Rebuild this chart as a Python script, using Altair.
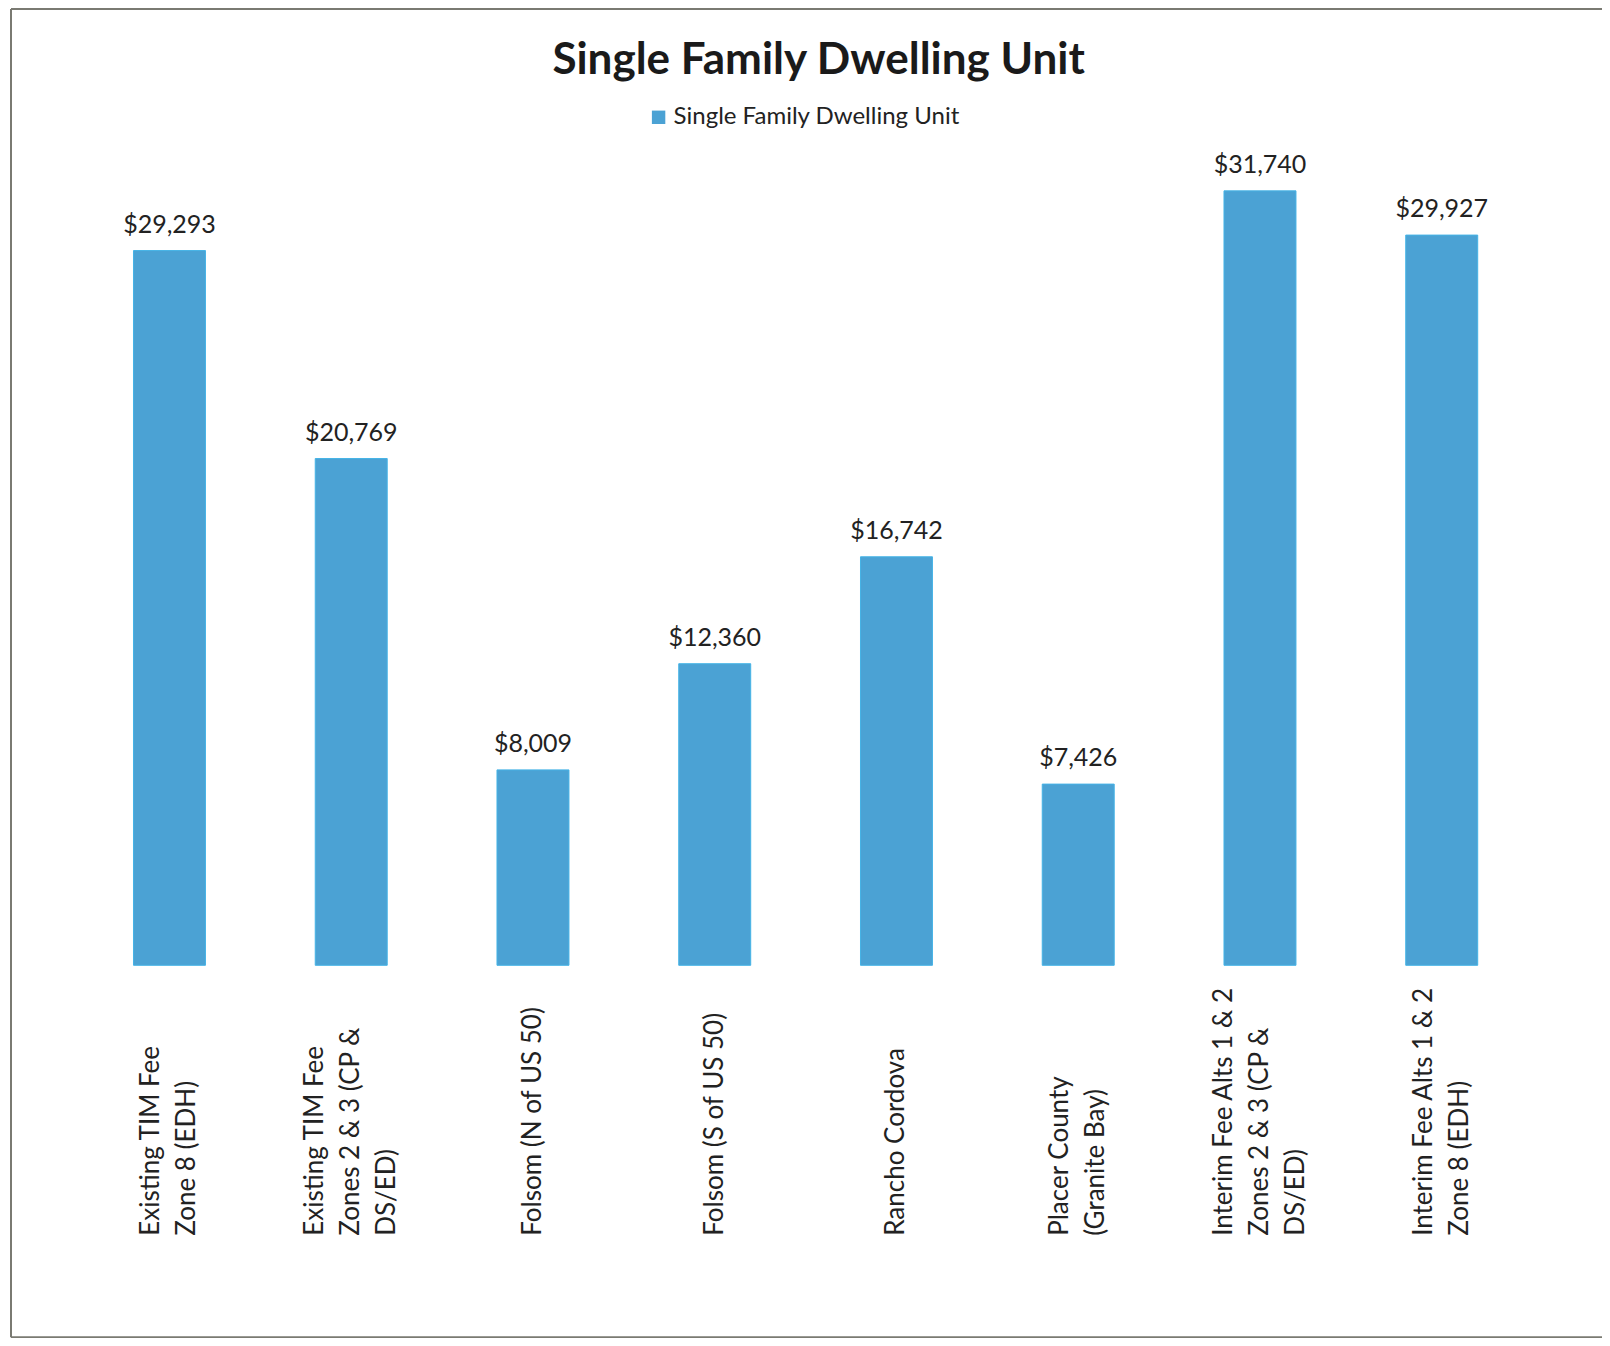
import altair as alt
import pandas as pd

categories = [
    "Existing TIM Fee|Zone 8 (EDH)",
    "Existing TIM Fee|Zones 2 & 3 (CP &|DS/ED)",
    "Folsom (N of US 50)",
    "Folsom (S of US 50)",
    "Rancho Cordova",
    "Placer County|(Granite Bay)",
    "Interim Fee Alts 1 & 2|Zones 2 & 3 (CP &|DS/ED)",
    "Interim Fee Alts 1 & 2|Zone 8 (EDH)",
]
fees = [29293, 20769, 8009, 12360, 16742, 7426, 31740, 29927]
series_name = "Single Family Dwelling Unit"

df = pd.DataFrame({"category": categories, "fee": fees, "series": [series_name] * len(fees)})

FONT = "Lato"
W, H = 1454, 854
LH = 36

x_enc = alt.X(
    "category:N",
    sort=None,
    title=None,
    scale=alt.Scale(paddingInner=0.604, paddingOuter=0.302),
    axis=alt.Axis(
        labelExpr="split(datum.label, '|')",
        labelAngle=270,
        labelAlign="left",
        labelBaseline="middle",
        labelPadding=270,
        labelOffset=alt.ExprRef(expr=f"-{LH / 2}*(length(split(datum.label, '|'))-1)"),
        labelFontSize=26,
        labelFont=FONT,
        labelColor="#222222",
        labelLineHeight=LH,
        labelOverlap=False,
        labelBound=False,
        labelLimit=0,
        domain=False,
        ticks=False,
        tickSize=0,
        grid=False,
    ),
)
y_enc = alt.Y("fee:Q", scale=alt.Scale(domain=[0, 35000], nice=False), axis=None)

base = alt.Chart(df)

bars = base.mark_bar(stroke="#45B3E6", strokeWidth=1).encode(
    x=x_enc,
    y=y_enc,
    color=alt.Color(
        "series:N",
        scale=alt.Scale(range=["#4BA2D4"]),
        legend=alt.Legend(
            title=None,
            orient="none",
            legendX=568,
            legendY=-6,
            padding=0,
            symbolType="square",
            symbolSize=180,
            symbolStrokeWidth=0,
            labelFont=FONT,
            labelFontSize=24,
            labelLimit=0,
            labelColor="#222222",
            labelOffset=3,
        ),
    ),
)

labels = base.mark_text(
    font=FONT, fontSize=25, color="#222222", baseline="alphabetic", dy=-18
).encode(
    x=alt.X("category:N", sort=None),
    y="fee:Q",
    text=alt.Text("fee:Q", format="$,.0f"),
)

one = pd.DataFrame({"f": [0]})
FR = dict(stroke="#7a7a72", strokeWidth=2)
frame_left = alt.Chart(one).mark_rule(**FR).encode(
    x=alt.value(-67.6), y=alt.value(-102.3), y2=alt.value(1226)
)
frame_top = alt.Chart(one).mark_rule(**FR).encode(
    x=alt.value(-67.6), x2=alt.value(1600), y=alt.value(-102.3)
)
frame_bottom = alt.Chart(one).mark_rule(**FR).encode(
    x=alt.value(-67.6), x2=alt.value(1600), y=alt.value(1226)
)

chart = alt.layer(frame_left, frame_top, frame_bottom, bars, labels).properties(
    width=W,
    height=H,
    title=alt.TitleParams(
        text="Single Family Dwelling Unit",
        font=FONT,
        fontSize=44,
        fontWeight="bold",
        color="#1a1a1a",
        anchor="middle",
        offset=-75,
        dx=13,
    ),
    padding={"left": 70.6, "top": 103.3, "right": 69.4, "bottom": 372.7},
    autosize=alt.AutoSizeParams(type="none"),
    background="white",
).configure_view(stroke="transparent", strokeWidth=0)

chart.save("out.html", embed_options={"renderer": "svg", "actions": False})
